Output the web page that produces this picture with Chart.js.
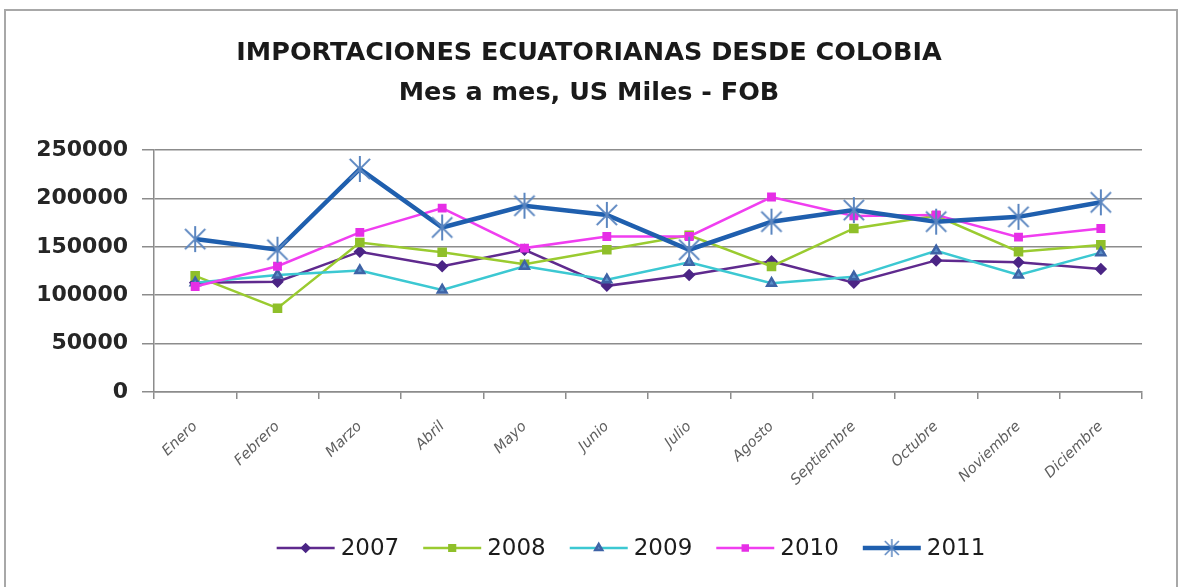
<!DOCTYPE html>
<html>
<head>
<meta charset="utf-8">
<script src="https://cdn.jsdelivr.net/npm/chart.js@4.4.1/dist/chart.umd.min.js"></script>
<style>
html, body { margin: 0; padding: 0; background: #fff; overflow: hidden; }
#marco { position: absolute; left: 4px; top: 9px; width: 1170px; height: 600px; border: 2px solid #a8a8a8; border-bottom: none; }
#caja { position: absolute; left: 0; top: 0; width: 1178px; height: 587px; }
</style>
</head>
<body>
<div id="marco"></div>
<div id="caja"><canvas id="grafico" width="1178" height="587"></canvas></div>
<script>
const meses = ['Enero', 'Febrero', 'Marzo', 'Abril', 'Mayo', 'Junio', 'Julio', 'Agosto', 'Septiembre', 'Octubre', 'Noviembre', 'Diciembre'];
const anios = ['2007', '2008', '2009', '2010', '2011'];

// importaciones mensuales, miles de US$ FOB
const imp2007 = [113000, 114000, 145000, 130000, 147000, 109700, 121000, 135000, 113000, 136000, 134000, 127000];
const imp2008 = [120000, 86600, 154500, 144500, 132000, 147000, 162000, 129700, 169000, 182000, 145000, 152000];
const imp2009 = [113000, 121000, 125500, 105500, 130000, 116000, 134000, 112500, 119000, 146000, 121000, 144000];
const imp2010 = [109000, 130000, 165000, 190000, 148700, 160700, 160700, 201500, 182000, 183000, 160000, 169000];
const imp2011 = [158000, 147000, 230500, 170000, 192500, 183000, 147000, 176000, 188000, 176000, 181000, 196000];

const ejeY = [0, 50000, 100000, 150000, 200000, 250000];

function estrella(r, color, ancho) {
    const c = document.createElement('canvas');
    c.width = c.height = 2 * r + 4;
    const g = c.getContext('2d');
    const m = r + 2, d = r * 0.78;
    g.strokeStyle = color;
    g.lineWidth = ancho;
    g.beginPath();
    g.moveTo(m - d, m - d); g.lineTo(m + d, m + d);
    g.moveTo(m + d, m - d); g.lineTo(m - d, m + d);
    g.moveTo(m, m - r); g.lineTo(m, m + r);
    g.stroke();
    return c;
}

const estrellaGrande = estrella(13, '#5b86c0', 2);
const estrellaChica = estrella(9, '#5b86c0', 1.5);

const series = [
    {label: anios[0], data: imp2007, borderColor: '#5f2a8e', backgroundColor: '#5f2a8e', pointBackgroundColor: '#4b2585', pointBorderColor: '#4b2585',
        borderWidth: 2.5, pointStyle: 'rectRot', pointRadius: 4.5, legendRadius: 3.5, order: 4},
    {label: anios[1], data: imp2008, borderColor: '#9acb30', backgroundColor: '#9acb30', pointBackgroundColor: '#8fbf2a', pointBorderColor: '#8fbf2a',
        borderWidth: 2.5, pointStyle: 'rect', pointRadius: 5, legendRadius: 4, order: 3},
    {label: anios[2], data: imp2009, borderColor: '#3cc8d2', backgroundColor: '#3cc8d2', pointBackgroundColor: '#5b8fc8', pointBorderColor: '#3e63a6',
        borderWidth: 2.5, pointStyle: 'triangle', pointRadius: 5, legendRadius: 4, order: 2},
    {label: anios[3], data: imp2010, borderColor: '#f03ef0', backgroundColor: '#f03ef0', pointBackgroundColor: '#e62ee6', pointBorderColor: '#e62ee6',
        borderWidth: 2.5, pointStyle: 'rect', pointRadius: 4.5, legendRadius: 3.5, order: 1},
    {label: anios[4], data: imp2011, borderColor: '#1f5fae', backgroundColor: '#1f5fae',
        borderWidth: 4.5, pointStyle: estrellaGrande, legendStyle: estrellaChica, pointRadius: 13, order: 0}
];

// el título se centra sobre todo el lienzo, no sólo sobre el área del gráfico
const tituloCentrado = {
    id: 'tituloCentrado',
    afterLayout(chart) {
        const t = chart.titleBlock;
        if (t) {
            t.left = 0;
            t.right = chart.width;
            t.width = chart.width;
        }
    }
};

// leyenda dibujada a mano: trazo + marcador + año
const leyenda = {
    id: 'leyenda',
    afterDraw(chart) {
        const ctx = chart.ctx;
        const largo = 58, hueco = 6, sep = 24, y = 548, centro = 631;
        ctx.save();
        ctx.font = '23px "DejaVu Sans"';
        const items = chart.data.datasets.map(ds => ({ds: ds, w: ctx.measureText(ds.label).width}));
        const total = items.reduce((s, it) => s + largo + hueco + it.w, 0) + sep * (items.length - 1);
        let x = centro - total / 2;
        items.forEach(it => {
            const ds = it.ds;
            ctx.strokeStyle = ds.borderColor;
            ctx.lineWidth = ds.borderWidth;
            ctx.beginPath();
            ctx.moveTo(x, y);
            ctx.lineTo(x + largo, y);
            ctx.stroke();
            ctx.fillStyle = ds.pointBackgroundColor || ds.borderColor;
            ctx.strokeStyle = ds.pointBorderColor || ds.borderColor;
            Chart.helpers.drawPoint(ctx, {
                pointStyle: ds.legendStyle || ds.pointStyle,
                rotation: 0,
                radius: ds.legendRadius || 4,
                borderWidth: 1
            }, x + largo / 2, y);
            ctx.fillStyle = '#1c1c1c';
            ctx.textBaseline = 'middle';
            ctx.textAlign = 'left';
            ctx.fillText(ds.label, x + largo + hueco, y + 1);
            x += largo + hueco + it.w + sep;
        });
        ctx.restore();
    }
};

const ctx = document.getElementById('grafico').getContext('2d');

const chart = new Chart(ctx, {
    type: 'line',
    data: {
        labels: meses,
        datasets: series
    },
    options: {
        responsive: false,
        animation: false,
        layout: {padding: {left: 0, right: 36, top: 0, bottom: 0}},
        elements: {line: {tension: 0}},
        plugins: {
            legend: {display: false},
            tooltip: {enabled: false},
            title: {
                display: true,
                text: ['IMPORTACIONES ECUATORIANAS DESDE COLOBIA', 'Mes a mes, US Miles - FOB'],
                color: '#1a1a1a',
                font: {family: '"DejaVu Sans"', size: 25.5, weight: 'bold', lineHeight: 1.57},
                padding: {top: 33, bottom: 37}
            }
        },
        scales: {
            x: {
                offset: true,
                afterFit: function (scale) { scale.height = 195; },
                grid: {display: true, offset: true, drawOnChartArea: false, color: '#8c8c8c', lineWidth: 1.5, tickLength: 7},
                border: {display: true, color: '#8c8c8c', width: 1.5},
                ticks: {
                    autoSkip: false,
                    minRotation: 44,
                    maxRotation: 44,
                    padding: 19,
                    color: '#606060',
                    font: {family: '"DejaVu Sans"', size: 14.5, style: 'italic'}
                }
            },
            y: {
                min: ejeY[0],
                max: ejeY[ejeY.length - 1],
                afterFit: function (scale) { scale.width = 154; },
                afterBuildTicks: function (scale) { scale.ticks = ejeY.map(v => ({value: v})); },
                grid: {color: '#8c8c8c', lineWidth: 1.5, tickLength: 12},
                border: {display: true, color: '#8c8c8c', width: 1.5},
                ticks: {
                    padding: 14,
                    color: '#262626',
                    font: {family: '"DejaVu Sans"', size: 22, weight: 'bold'},
                    callback: function (v) { return String(v); }
                }
            }
        }
    },
    plugins: [tituloCentrado, leyenda]
});
</script>
</body>
</html>
